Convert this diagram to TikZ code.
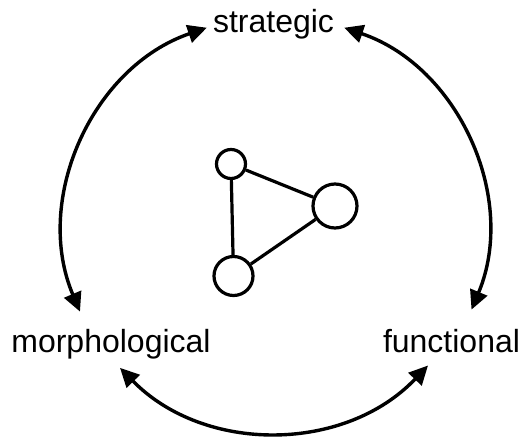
\documentclass[tikz,border=0pt]{standalone}
\usepackage{fontspec}
\setmainfont{Liberation Sans}
\usepackage{tikz}
\usetikzlibrary{positioning,arrows.meta}

\begin{document}
\begin{tikzpicture}[
  x=1pt,y=1pt,
  font=\fontsize{32}{38}\selectfont,
  lbl/.style={inner sep=6pt,anchor=base},
  vtx/.style={draw,circle,line width=3.2pt,inner sep=0pt,fill=white},
  edg/.style={line width=3.2pt},
  arr/.style={{Triangle[length=19pt,width=18pt]}-{Triangle[length=19pt,width=18pt]},line width=3.4pt}
]
\useasboundingbox (0,0) rectangle (525,439);

\node[lbl] (strat) at (273.5,406) {strategic};
\node[lbl] (morph) at (111,86) {morphological};
\node[lbl] (func) at (451.5,86) {functional};

\node[vtx,minimum size=29pt] (va) at (231,275) {};
\node[vtx,minimum size=44pt] (vb) at (335,233) {};
\node[vtx,minimum size=39pt] (vc) at (233.5,163) {};

\draw[edg] (va) -- (vc);
\draw[edg] (va) -- (vb);
\draw[edg] (vb) -- (vc);

\draw[arr] ([yshift=-3pt]strat.west) to[bend right=47] ([xshift=-31pt,yshift=12pt]morph.north);
\draw[arr] ([xshift=4pt,yshift=-3pt]strat.east) to[bend left=47] ([xshift=20pt,yshift=14pt]func.north);
\draw[arr] ([xshift=9pt,yshift=-2pt]morph.south) to[bend right=46] ([xshift=-23.5pt,yshift=-6pt]func.south);
\end{tikzpicture}
\end{document}
